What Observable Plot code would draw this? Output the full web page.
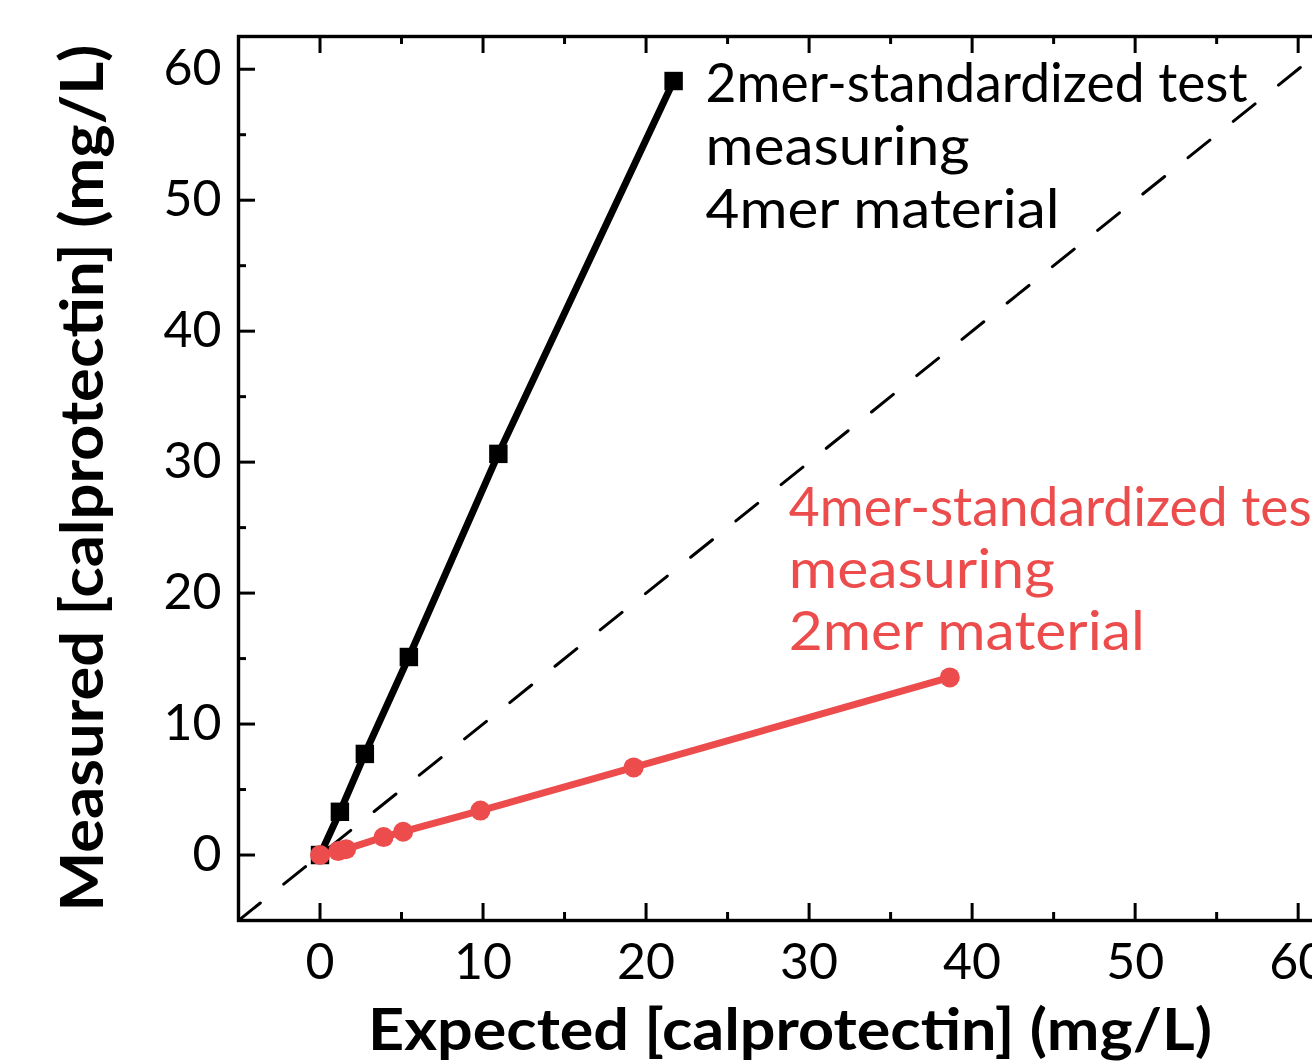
<!DOCTYPE html>
<html>
<head>
<meta charset="utf-8">
<script src="https://cdn.jsdelivr.net/npm/d3@7"></script>
<script src="https://cdn.jsdelivr.net/npm/@observablehq/plot@0.6"></script>
<style>
  html, body { margin: 0; padding: 0; background: #fff; overflow: hidden; }
  #chart { width: 1312px; height: 1063px; overflow: hidden; }
</style>
</head>
<body>
<div id="chart"></div>
<script>
// ---- data ----
const blackExpected = [0, 1.22, 2.75, 5.45, 10.94, 21.69];
const blackMeasured = [0, 3.3, 7.72, 15.12, 30.63, 59.1];
const redExpected = [0, 1.12, 1.6, 3.9, 5.1, 9.84, 19.24, 38.63];
const redMeasured = [0, 0.3, 0.45, 1.37, 1.78, 3.39, 6.69, 13.56];
const blackLabel = "2mer-standardized test\nmeasuring\n4mer material";
const redLabel = "4mer-standardized test\nmeasuring\n2mer material";
const xMajorTicks = [0, 10, 20, 30, 40, 50, 60];
const xMinorTicks = [5, 15, 25, 35, 45, 55];
const yMajorTicks = [0, 10, 20, 30, 40, 50, 60];
const yMinorTicks = [5, 15, 25, 35, 45, 55];
const identityLine = [-5, 65];
const xTitle = "Expected [calprotectin] (mg/L)";
const yTitle = "Measured [calprotectin] (mg/L)";

const black = blackExpected.map((x, i) => ({x, y: blackMeasured[i]}));
const red = redExpected.map((x, i) => ({x, y: redMeasured[i]}));

const RED = "#ec4c4c";
const W = 1320, H = 1063;
const mL = 238, mR = 0, mT = 36, mB = 143;
const innerH = H - mT - mB;
const majorLen = 17, minorLen = 8;

const plot = Plot.plot({
  width: W,
  height: H,
  marginLeft: mL,
  marginRight: mR,
  marginTop: mT,
  marginBottom: mB,
  style: {fontFamily: "Lato, 'Open Sans', sans-serif", fontSize: "50px", color: "#000", background: "#fff", maxWidth: "none", overflow: "hidden"},
  x: {domain: [-5, 61.37], label: null},
  y: {domain: [-5, 62.5], label: null},
  marks: [
    // identity reference line
    Plot.line(identityLine, {x: d => d, y: d => d, stroke: "#000", strokeWidth: 3, strokeDasharray: "28,30", clip: true}),
    // inward ticks: bottom & top
    Plot.tickX(xMajorTicks, {x: d => d, insetTop: innerH - majorLen, stroke: "#000", strokeWidth: 3}),
    Plot.tickX(xMinorTicks, {x: d => d, insetTop: innerH - minorLen, stroke: "#000", strokeWidth: 3}),
    Plot.tickX(xMajorTicks, {x: d => d, insetBottom: innerH - majorLen, stroke: "#000", strokeWidth: 3}),
    Plot.tickX(xMinorTicks, {x: d => d, insetBottom: innerH - minorLen, stroke: "#000", strokeWidth: 3}),
    // inward ticks: left
    Plot.tickY(yMajorTicks, {y: d => d, insetRight: (W - mL - mR) - majorLen, stroke: "#000", strokeWidth: 3}),
    Plot.tickY(yMinorTicks, {y: d => d, insetRight: (W - mL - mR) - minorLen, stroke: "#000", strokeWidth: 3}),
    Plot.frame({stroke: "#000", strokeWidth: 3.4}),
    // tick labels
    Plot.axisX(xMajorTicks, {anchor: "bottom", tickSize: 0, tickPadding: 23, fontSize: 50, label: null, tickFormat: d => String(d)}),
    Plot.axisY(yMajorTicks, {anchor: "left", tickSize: 0, tickPadding: 17, fontSize: 50, label: null, tickFormat: d => String(d)}),
    // black series
    Plot.line(black, {x: "x", y: "y", stroke: "#000", strokeWidth: 7}),
    Plot.dot(black, {x: "x", y: "y", symbol: "square", r: 10.4, fill: "#000", stroke: "none"}),
    // red series
    Plot.line(red, {x: "x", y: "y", stroke: RED, strokeWidth: 7}),
    Plot.dot(red, {x: "x", y: "y", symbol: "circle", r: 10, fill: RED, stroke: "none"}),
    // annotations anchored to last point of each series
    Plot.text(black.slice(-1), {x: "x", y: "y", text: () => blackLabel, dx: 32, dy: -24, textAnchor: "start", lineAnchor: "top", lineHeight: 1.145, fontSize: 55, fill: "#000"}),
    Plot.text(red.slice(-1), {x: "x", y: "y", text: () => redLabel, dx: -161, dy: -196, textAnchor: "start", lineAnchor: "top", lineHeight: 1.13, fontSize: 55, fill: RED})
  ]
});

const svg = d3.select(plot);

// fit annotation lines to the reference's (Calibri-like) line widths
const lineLengths = [[542, 264, 354], [542, 266, 356]];
svg.selectAll('g[aria-label="text"]').each(function(_, gi) {
  const lens = lineLengths[gi];
  if (!lens) return;
  d3.select(this).selectAll("tspan").each(function(_, li) {
    if (lens[li]) d3.select(this).attr("textLength", lens[li]).attr("lengthAdjust", "spacingAndGlyphs");
  });
});

// axis titles
svg.append("text")
  .attr("x", 790).attr("y", 1050)
  .attr("text-anchor", "middle")
  .attr("font-family", "Lato, sans-serif").attr("font-weight", 700).attr("font-size", 58)
  .attr("textLength", 844).attr("lengthAdjust", "spacingAndGlyphs")
  .attr("fill", "#000")
  .text(xTitle);
svg.append("text")
  .attr("transform", "translate(103,478) rotate(-90)")
  .attr("text-anchor", "middle")
  .attr("font-family", "Lato, sans-serif").attr("font-weight", 700).attr("font-size", 60)
  .attr("textLength", 867).attr("lengthAdjust", "spacingAndGlyphs")
  .attr("fill", "#000")
  .text(yTitle);

document.getElementById("chart").appendChild(plot);
</script>
</body>
</html>
